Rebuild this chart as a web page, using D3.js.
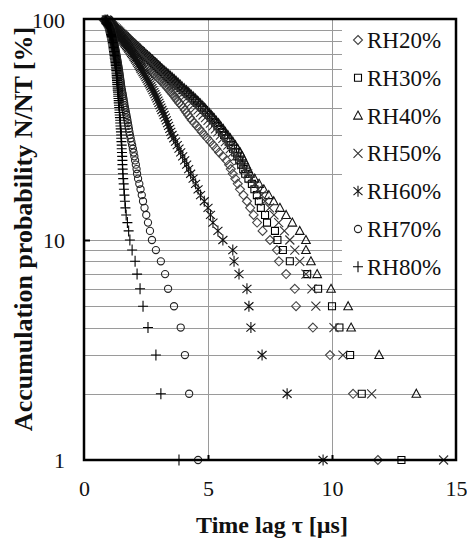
<!DOCTYPE html>
<html>
<head>
<meta charset="utf-8">
<script src="https://cdn.jsdelivr.net/npm/d3@7"></script>
<style>
  html, body { margin: 0; padding: 0; background: #fff; }
  svg { display: block; }
</style>
</head>
<body>
<div id="chart"></div>
<script>
// N/NT levels, 100% .. 1% (one point per level)
const levels = [
  100, 99, 98, 97, 96, 95, 94, 93, 92, 91,
  90, 89, 88, 87, 86, 85, 84, 83, 82, 81,
  80, 79, 78, 77, 76, 75, 74, 73, 72, 71,
  70, 69, 68, 67, 66, 65, 64, 63, 62, 61,
  60, 59, 58, 57, 56, 55, 54, 53, 52, 51,
  50, 49, 48, 47, 46, 45, 44, 43, 42, 41,
  40, 39, 38, 37, 36, 35, 34, 33, 32, 31,
  30, 29, 28, 27, 26, 25, 24, 23, 22, 21,
  20, 19, 18, 17, 16, 15, 14, 13, 12, 11,
  10, 9, 8, 7, 6, 5, 4, 3, 2, 1
];

// time lag [us], one per level above
const rh20 = [
  0.8, 0.84, 0.88, 0.92, 0.96, 1.0, 1.04, 1.08, 1.12, 1.16,
  1.2, 1.24, 1.28, 1.32, 1.36, 1.4, 1.44, 1.48, 1.52, 1.56,
  1.6, 1.64, 1.69, 1.73, 1.78, 1.82, 1.87, 1.91, 1.96, 2.0,
  2.05, 2.1, 2.16, 2.21, 2.27, 2.32, 2.38, 2.43, 2.49, 2.54,
  2.6, 2.67, 2.74, 2.81, 2.88, 2.95, 3.02, 3.09, 3.16, 3.23,
  3.3, 3.37, 3.44, 3.5, 3.57, 3.64, 3.7, 3.77, 3.84, 3.92,
  4.0, 4.06, 4.13, 4.2, 4.27, 4.35, 4.45, 4.55, 4.65, 4.75,
  4.85, 4.97, 5.09, 5.21, 5.33, 5.45, 5.6, 5.75, 5.85, 5.92,
  6.0, 6.1, 6.2, 6.29, 6.43, 6.57, 6.7, 6.84, 6.98, 7.2,
  7.5, 7.78, 7.86, 8.15, 8.5, 8.55, 9.23, 9.92, 10.85, 11.85
];
const rh30 = [
  0.9, 0.94, 0.98, 1.02, 1.06, 1.1, 1.15, 1.2, 1.25, 1.3,
  1.35, 1.4, 1.45, 1.5, 1.55, 1.6, 1.65, 1.7, 1.75, 1.8,
  1.85, 1.9, 1.96, 2.01, 2.07, 2.12, 2.18, 2.23, 2.29, 2.34,
  2.4, 2.46, 2.53, 2.59, 2.66, 2.72, 2.79, 2.85, 2.92, 2.98,
  3.05, 3.12, 3.2, 3.27, 3.35, 3.42, 3.5, 3.57, 3.65, 3.72,
  3.8, 3.9, 3.99, 4.09, 4.18, 4.28, 4.37, 4.47, 4.56, 4.66,
  4.75, 4.84, 4.93, 5.02, 5.11, 5.2, 5.29, 5.38, 5.47, 5.56,
  5.65, 5.74, 5.83, 5.92, 6.01, 6.1, 6.18, 6.26, 6.34, 6.42,
  6.5, 6.63, 6.77, 6.87, 6.97, 7.05, 7.13, 7.3, 7.38, 7.7,
  7.8, 8.02, 8.3, 9.0, 9.44, 10.0, 10.3, 10.73, 11.2, 12.8
];
const rh40 = [
  0.9, 0.95, 1.0, 1.05, 1.1, 1.15, 1.2, 1.25, 1.3, 1.35,
  1.4, 1.45, 1.5, 1.55, 1.6, 1.65, 1.7, 1.75, 1.8, 1.85,
  1.9, 1.96, 2.02, 2.08, 2.14, 2.2, 2.26, 2.32, 2.38, 2.44,
  2.5, 2.56, 2.63, 2.69, 2.76, 2.82, 2.89, 2.95, 3.02, 3.08,
  3.15, 3.23, 3.31, 3.39, 3.47, 3.55, 3.63, 3.71, 3.79, 3.87,
  3.95, 4.04, 4.13, 4.22, 4.31, 4.4, 4.49, 4.58, 4.67, 4.76,
  4.85, 4.94, 5.04, 5.13, 5.23, 5.32, 5.42, 5.51, 5.61, 5.7,
  5.8, 5.9, 6.0, 6.1, 6.2, 6.3, 6.38, 6.46, 6.54, 6.62,
  6.7, 6.88, 7.06, 7.25, 7.45, 7.65, 7.9, 8.15, 8.4, 8.7,
  8.95, 8.95, 9.15, 9.4, 9.96, 10.65, 10.77, 11.9, 13.4, null
];
const rh50 = [
  0.9, 0.94, 0.98, 1.02, 1.06, 1.1, 1.15, 1.2, 1.25, 1.3,
  1.35, 1.39, 1.44, 1.48, 1.53, 1.57, 1.62, 1.66, 1.71, 1.75,
  1.8, 1.85, 1.9, 1.95, 2.0, 2.05, 2.1, 2.15, 2.2, 2.25,
  2.3, 2.36, 2.42, 2.48, 2.54, 2.6, 2.66, 2.72, 2.78, 2.84,
  2.9, 2.97, 3.04, 3.11, 3.18, 3.25, 3.32, 3.39, 3.46, 3.53,
  3.6, 3.69, 3.78, 3.87, 3.96, 4.05, 4.14, 4.23, 4.32, 4.41,
  4.5, 4.6, 4.7, 4.8, 4.9, 5.0, 5.1, 5.2, 5.3, 5.4,
  5.5, 5.6, 5.7, 5.8, 5.9, 6.0, 6.12, 6.24, 6.36, 6.48,
  6.6, 6.74, 6.88, 7.02, 7.16, 7.3, 7.48, 7.66, 7.85, 8.08,
  8.3, 8.5, 8.7, 8.95, 9.19, 9.35, 10.08, 10.44, 11.6, 14.5
];
const rh60 = [
  0.95, 0.98, 1.01, 1.04, 1.07, 1.1, 1.13, 1.16, 1.19, 1.22,
  1.25, 1.29, 1.32, 1.36, 1.39, 1.43, 1.46, 1.5, 1.53, 1.57,
  1.6, 1.64, 1.67, 1.71, 1.74, 1.78, 1.81, 1.85, 1.88, 1.92,
  1.95, 1.99, 2.02, 2.06, 2.09, 2.13, 2.16, 2.2, 2.23, 2.27,
  2.3, 2.34, 2.38, 2.42, 2.46, 2.5, 2.54, 2.58, 2.62, 2.66,
  2.7, 2.74, 2.78, 2.82, 2.86, 2.9, 2.94, 2.98, 3.02, 3.06,
  3.1, 3.14, 3.19, 3.23, 3.28, 3.32, 3.37, 3.41, 3.46, 3.5,
  3.55, 3.62, 3.69, 3.76, 3.83, 3.9, 3.98, 4.06, 4.14, 4.22,
  4.3, 4.4, 4.5, 4.6, 4.7, 4.85, 5.0, 5.1, 5.2, 5.4,
  5.6, 6.0, 6.05, 6.25, 6.57, 6.65, 6.73, 7.18, 8.19, 9.64
];
const rh70 = [
  0.88, 0.92, 0.95, 0.98, 1.0, 1.02, 1.04, 1.06, 1.08, 1.09,
  1.1, 1.11, 1.12, 1.13, 1.14, 1.15, 1.16, 1.17, 1.18, 1.19,
  1.2, 1.21, 1.22, 1.23, 1.24, 1.25, 1.26, 1.27, 1.28, 1.29,
  1.3, 1.31, 1.32, 1.33, 1.34, 1.35, 1.36, 1.37, 1.38, 1.39,
  1.4, 1.41, 1.42, 1.43, 1.44, 1.45, 1.46, 1.47, 1.48, 1.49,
  1.5, 1.51, 1.53, 1.54, 1.56, 1.57, 1.59, 1.6, 1.62, 1.63,
  1.65, 1.67, 1.69, 1.71, 1.73, 1.75, 1.77, 1.79, 1.81, 1.83,
  1.85, 1.88, 1.91, 1.94, 1.97, 2.0, 2.03, 2.06, 2.09, 2.12,
  2.14, 2.18, 2.23, 2.28, 2.33, 2.38, 2.44, 2.51, 2.58, 2.66,
  2.74, 2.9, 3.1, 3.27, 3.39, 3.63, 3.9, 4.07, 4.24, 4.6
];
const rh80 = [
  0.85, 0.88, 0.9, 0.92, 0.94, 0.96, 0.98, 1.0, 1.02, 1.04,
  1.05, 1.06, 1.07, 1.08, 1.09, 1.1, 1.11, 1.12, 1.13, 1.14,
  1.15, 1.16, 1.16, 1.17, 1.18, 1.19, 1.19, 1.2, 1.21, 1.21,
  1.22, 1.23, 1.24, 1.24, 1.25, 1.26, 1.27, 1.28, 1.28, 1.29,
  1.3, 1.3, 1.31, 1.31, 1.32, 1.32, 1.33, 1.33, 1.34, 1.34,
  1.35, 1.36, 1.36, 1.37, 1.38, 1.38, 1.39, 1.4, 1.4, 1.41,
  1.42, 1.43, 1.43, 1.44, 1.45, 1.46, 1.46, 1.47, 1.48, 1.49,
  1.5, 1.5, 1.51, 1.52, 1.52, 1.53, 1.54, 1.55, 1.55, 1.56,
  1.57, 1.58, 1.6, 1.61, 1.63, 1.65, 1.67, 1.7, 1.75, 1.8,
  1.85, 1.94, 2.06, 2.14, 2.26, 2.38, 2.58, 2.9, 3.1, 3.83
];

const seriesNames = ['RH20%', 'RH30%', 'RH40%', 'RH50%', 'RH60%', 'RH70%', 'RH80%'];
const seriesX = [rh20, rh30, rh40, rh50, rh60, rh70, rh80];
const seriesShape = ['diamond', 'square', 'triangle', 'cross', 'star', 'circle', 'plus'];

const xTicks = [0, 5, 10, 15];
const yTicks = [1, 10, 100];
const yGrid = [2, 3, 4, 5, 6, 7, 8, 9, 10, 20, 30, 40, 50, 60, 70, 80, 90];
const xGrid = [5, 10];

const W = 467, H = 542;
const m = { left: 84, right: 456, top: 20, bottom: 460 };

const x = d3.scaleLinear().domain([0, 15]).range([m.left, m.right]);
const y = d3.scaleLog().domain([1, 100]).range([m.bottom, m.top]);

const svg = d3.select('#chart').append('svg')
  .attr('width', W).attr('height', H);

const serif = '"Liberation Serif", "Times New Roman", serif';

// grid
svg.append('g').selectAll('line').data(yGrid).join('line')
  .attr('x1', m.left).attr('x2', m.right)
  .attr('y1', d => Math.round(y(d)) + 0.5).attr('y2', d => Math.round(y(d)) + 0.5)
  .attr('stroke', '#9a9a9a').attr('stroke-width', 1);
svg.append('g').selectAll('line').data(xGrid).join('line')
  .attr('y1', m.top).attr('y2', m.bottom)
  .attr('x1', d => Math.round(x(d)) + 0.5).attr('x2', d => Math.round(x(d)) + 0.5)
  .attr('stroke', '#9a9a9a').attr('stroke-width', 1);

// legend background hides the grid behind it
const lg = { x: 342, y: m.top, w: m.right - 342, h: 263 };
svg.append('rect')
  .attr('x', lg.x).attr('y', lg.y).attr('width', lg.w).attr('height', lg.h)
  .attr('fill', '#fff');

// marker shapes
function shapePath(type) {
  const p = d3.path();
  if (type === 'diamond') {
    p.moveTo(0, -4.5); p.lineTo(4.5, 0); p.lineTo(0, 4.5); p.lineTo(-4.5, 0); p.closePath();
  } else if (type === 'square') {
    p.rect(-3.5, -3.5, 7, 7);
  } else if (type === 'triangle') {
    p.moveTo(0, -4.5); p.lineTo(4.3, 3.5); p.lineTo(-4.3, 3.5); p.closePath();
  } else if (type === 'cross') {
    p.moveTo(-4.5, -4.5); p.lineTo(4.5, 4.5); p.moveTo(4.5, -4.5); p.lineTo(-4.5, 4.5);
  } else if (type === 'star') {
    p.moveTo(-4.5, -4); p.lineTo(4.5, 4); p.moveTo(4.5, -4); p.lineTo(-4.5, 4);
    p.moveTo(0, -5.5); p.lineTo(0, 5.5);
  } else if (type === 'circle') {
    p.arc(0, 0, 3.6, 0, 2 * Math.PI);
  } else {
    p.moveTo(-5, 0); p.lineTo(5, 0); p.moveTo(0, -5.5); p.lineTo(0, 5.5);
  }
  return p.toString();
}
const shapeStroke = { diamond: '#444', square: '#000', triangle: '#111', cross: '#333', star: '#111', circle: '#222', plus: '#000' };

seriesX.forEach((xs, i) => {
  const pts = xs.map((v, k) => ({ x: v, y: levels[k] })).filter(d => d.x != null);
  const type = seriesShape[i];
  svg.append('g').selectAll('path').data(pts).join('path')
    .attr('transform', d => `translate(${x(d.x)},${y(d.y)})`)
    .attr('d', shapePath(type))
    .attr('fill', 'none')
    .attr('stroke', shapeStroke[type])
    .attr('stroke-width', 1.1);
});

// legend
const legend = svg.append('g').selectAll('g').data(seriesNames).join('g')
  .attr('transform', (d, i) => `translate(${lg.x}, ${lg.y + 20 + i * 37.8})`);
legend.append('path')
  .attr('transform', 'translate(16,0)')
  .attr('d', (d, i) => shapePath(seriesShape[i]))
  .attr('fill', 'none')
  .attr('stroke', (d, i) => shapeStroke[seriesShape[i]])
  .attr('stroke-width', 1.1);
legend.append('text')
  .attr('x', 25).attr('y', 8)
  .style('font-family', serif).style('font-size', '23px')
  .attr('fill', '#111')
  .text(d => d);

// axes
const yAxis = d3.axisLeft(y).tickValues(yTicks).tickFormat(d3.format('d'))
  .tickSizeInner(-6).tickSizeOuter(0).tickPadding(19);
const gy = svg.append('g').attr('transform', `translate(${m.left},0)`).call(yAxis);
const xAxis = d3.axisBottom(x).tickValues(xTicks)
  .tickSizeInner(-5).tickSizeOuter(0).tickPadding(20);
const gx = svg.append('g').attr('transform', `translate(0,${m.bottom})`).call(xAxis);

[gx, gy].forEach(g => {
  g.select('.domain').remove();
  g.selectAll('.tick line').attr('stroke', '#000').attr('stroke-width', 2);
  g.selectAll('.tick text')
    .style('font-family', serif).style('font-size', '22px').attr('fill', '#111');
});
gx.selectAll('.tick').filter(d => d === 0 || d === 15).select('line').remove();
gy.selectAll('.tick').filter(d => d === 100 || d === 1).select('line').remove();

// plot frame
svg.append('rect')
  .attr('x', m.left).attr('y', m.top - 1)
  .attr('width', m.right - m.left).attr('height', m.bottom - m.top + 1)
  .attr('fill', 'none').attr('stroke', '#000').attr('stroke-width', 2.5);

// axis titles
svg.append('text')
  .attr('x', 272).attr('y', 533)
  .attr('text-anchor', 'middle')
  .style('font-family', serif).style('font-size', '24px').style('font-weight', 'bold')
  .attr('fill', '#111')
  .text('Time lag τ [µs]');

svg.append('text')
  .attr('transform', 'translate(32,229) rotate(-90)')
  .attr('text-anchor', 'middle')
  .style('font-family', serif).style('font-size', '26px').style('font-weight', 'bold')
  .attr('fill', '#111')
  .text('Accumulation probability N/NT [%]');
</script>
</body>
</html>
